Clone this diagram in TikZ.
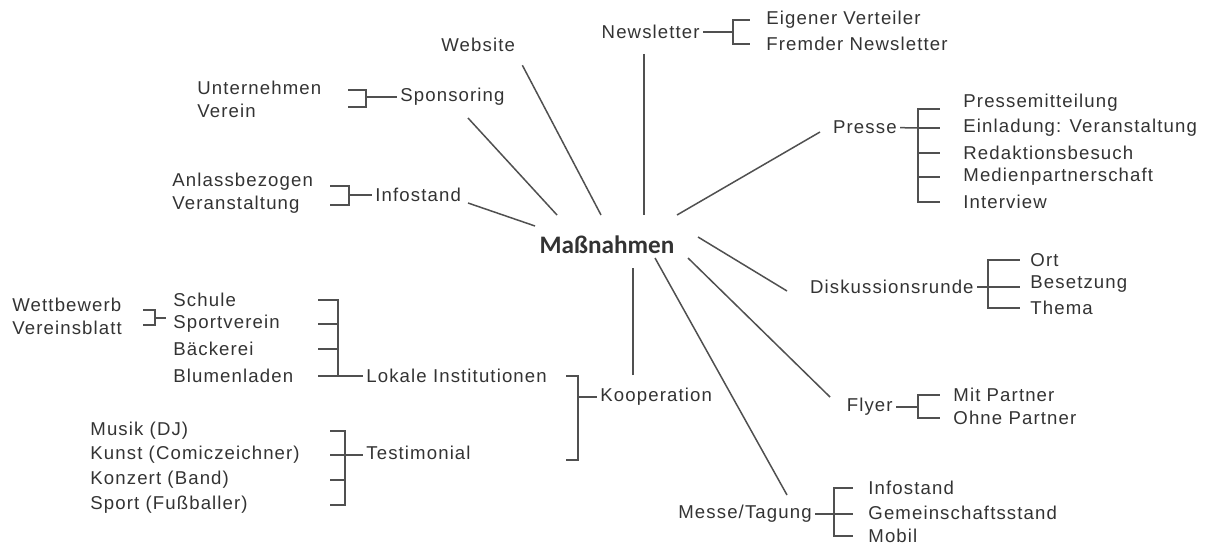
\documentclass[tikz,border=0pt]{standalone}
\usepackage{fontspec}
\setmainfont{Liberation Sans}[LetterSpace=6]
\newfontfamily\hubfont{Carlito}
\usepackage{tikz}
\definecolor{ink}{HTML}{333333}
\definecolor{wire}{HTML}{505050}

\begin{document}
\begin{tikzpicture}[
    x=0.5pt, y=-0.5pt,
    every node/.style={inner sep=1.5pt, text=ink, font=\fontsize{9.3}{11}\selectfont},
    leaf/.style={anchor=west},
    hub/.style={font=\hubfont\bfseries\fontsize{12.6}{14}\selectfont},
    wire/.style={draw=wire, line width=0.75pt}
]
\useasboundingbox (0,0) rectangle (1219,545);

% centre
\node[hub] (mass) at (607,245) {Maßnahmen};

% first ring
\node[anchor=west] (web) at (438,45) {Website};
\node[anchor=east] (news) at (703,32) {Newsletter};
\node[anchor=west] (spo) at (397,97) {Sponsoring};
\node[anchor=west] (info) at (372,195) {Infostand};
\node[anchor=east] (presse) at (900,127) {Presse};
\node[anchor=east] (disk) at (977,287) {Diskussionsrunde};
\node[anchor=east] (flyer) at (896,407) {Flyer};
\node[anchor=east] (messe) at (815,514) {Messe/Tagung};
\node[anchor=west] (koop) at (597,397) {Kooperation};

% spokes
\draw[wire] ([shift={(4,10)}]web.south east) -- ([shift={(-6,-30)}]mass.center);
\draw[wire] ([shift={(71,21)}]spo.west) -- ([shift={(-50,-30)}]mass.center);
\draw[wire] ([shift={(96,8)}]info.west) -- ([shift={(-72,-19)}]mass.center);
\draw[wire] ([shift={(-59,22)}]news.east) -- ([shift={(37,-30)}]mass.center);
\draw[wire] ([shift={(-80,5)}]presse.east) -- ([shift={(70,-30)}]mass.center);
\draw[wire] ([shift={(-190,4)}]disk.east) -- ([shift={(91,-8)}]mass.center);
\draw[wire] ([shift={(-66,-10)}]flyer.east) -- ([shift={(81,13)}]mass.center);
\draw[wire] ([shift={(-28,-19)}]messe.east) -- ([shift={(48,13)}]mass.center);
\draw[wire] ([shift={(36,-22)}]koop.west) -- ([shift={(26,23)}]mass.center);

% Newsletter
\node[leaf] (nl1) at (763,20) {Eigener Verteiler};
\node[leaf] (nl2) at (763,44) {Fremder Newsletter};
\coordinate (nl-j) at (733,32);
\draw[wire] (news) -- (nl-j);
\foreach \i in {1,2}
    \draw[wire] (nl-j) |- ([xshift=-6.5pt]nl\i.west);

% Presse
\node[leaf] (pr1) at (960,103) {Pressemitteilung};
\node[leaf] (pr2) at (960,128) {Einladung: Veranstaltung};
\node[leaf] (pr3) at (960,153) {Redaktionsbesuch};
\node[leaf] (pr4) at (960,177) {Medienpartnerschaft};
\node[leaf] (pr5) at (960,202) {Interview};
\coordinate (pr-j) at (918,128);
\draw[wire] (presse) -- (pr-j);
\draw[wire] (pr-j) |- ([xshift=-10pt,yshift=-3pt]pr1.west);
\foreach \i in {2,...,5}
    \draw[wire] (pr-j) |- ([xshift=-10pt]pr\i.west);

% Diskussionsrunde
\node[leaf] (di1) at (1027,260) {Ort};
\node[leaf] (di2) at (1027,284) {Besetzung};
\node[leaf] (di3) at (1027,308) {Thema};
\coordinate (di-j) at (988,287);
\draw[wire] (disk) -- (di-j);
\draw[wire] (di-j) -- ([xshift=-3.5pt]di-j -| di2.west);
\foreach \i in {1,3}
    \draw[wire] (di-j) |- ([xshift=-3.5pt]di\i.west);

% Flyer
\node[leaf] (fl1) at (950,395) {Mit Partner};
\node[leaf] (fl2) at (950,418) {Ohne Partner};
\coordinate (fl-j) at (918,407);
\draw[wire] (flyer) -- (fl-j);
\foreach \i in {1,2}
    \draw[wire] (fl-j) |- ([xshift=-5pt]fl\i.west);

% Messe/Tagung
\node[leaf] (me1) at (865,488) {Infostand};
\node[leaf] (me2) at (865,513) {Gemeinschaftsstand};
\node[leaf] (me3) at (865,536) {Mobil};
\coordinate (me-j) at (834,514);
\draw[wire] (messe) -- ([xshift=-6pt]me-j -| me2.west);
\foreach \i in {1,3}
    \draw[wire] (me-j) |- ([xshift=-6pt]me\i.west);

% Sponsoring
\node[leaf] (sp1) at (194,88) {Unternehmen};
\node[leaf] (sp2) at (194,111) {Verein};
\coordinate (sp-t) at (348,97);
\coordinate (sp-j) at (366,97);
\draw[wire] (sp-j) -- (spo);
\draw[wire] ([yshift=-1pt]sp-t |- sp1) -| (sp-j);
\draw[wire] ([yshift=2pt]sp-t |- sp2) -| (sp-j);

% Infostand
\node[leaf] (in1) at (169,182) {Anlassbezogen};
\node[leaf] (in2) at (169,205) {Veranstaltung};
\coordinate (in-t) at (330,195);
\coordinate (in-j) at (349,195);
\draw[wire] (in-j) -- (info);
\draw[wire] ([yshift=-2pt]in-t |- in1) -| (in-j);
\draw[wire] (in-t |- in2) -| (in-j);

% Kooperation
\node[leaf] (lok) at (363,376) {Lokale Institutionen};
\node[leaf] (test) at (363,453) {Testimonial};
\coordinate (ko-t) at (566,397);
\coordinate (ko-j) at (578,397);
\draw[wire] (ko-j) -- (koop);
\draw[wire] (ko-t |- lok) -| (ko-j);
\draw[wire] ([yshift=-3.5pt]ko-t |- test) -| (ko-j);

% Lokale Institutionen
\node[leaf] (lk1) at (170,300) {Schule};
\node[leaf] (lk2) at (170,324) {Sportverein};
\node[leaf] (lk3) at (170,349) {Bäckerei};
\node[leaf] (lk4) at (170,376) {Blumenladen};
\coordinate (lk-t) at (318,376);
\coordinate (lk-j) at (338,376);
\draw[wire] (lk-t |- lk4) -- (lok);
\foreach \i in {1,2,3}
    \draw[wire] (lk-t |- lk\i) -| (lk-j);

% Wettbewerb / Vereinsblatt
\node[leaf] (wb1) at (9,305) {Wettbewerb};
\node[leaf] (wb2) at (9,328) {Vereinsblatt};
\coordinate (wb-t) at (143,318);
\coordinate (wb-j) at (155,318);
\coordinate (wb-e) at (166,318);
\draw[wire] (wb-j) -- (wb-e);
\draw[wire] ([yshift=-2.5pt]wb-t |- wb1) -| (wb-j);
\draw[wire] ([yshift=1.5pt]wb-t |- wb2) -| (wb-j);

% Testimonial
\node[leaf] (te1) at (87,431) {Musik (DJ)};
\node[leaf] (te2) at (87,455) {Kunst (Comiczeichner)};
\node[leaf] (te3) at (87,480) {Konzert (Band)};
\node[leaf] (te4) at (87,505) {Sport (Fußballer)};
\coordinate (te-t) at (330,455);
\coordinate (te-j) at (345,455);
\draw[wire] (te-j) -- (te-j -| test.west);
\foreach \i in {1,...,4}
    \draw[wire] (te-t |- te\i) -| (te-j);
\end{tikzpicture}
\end{document}
